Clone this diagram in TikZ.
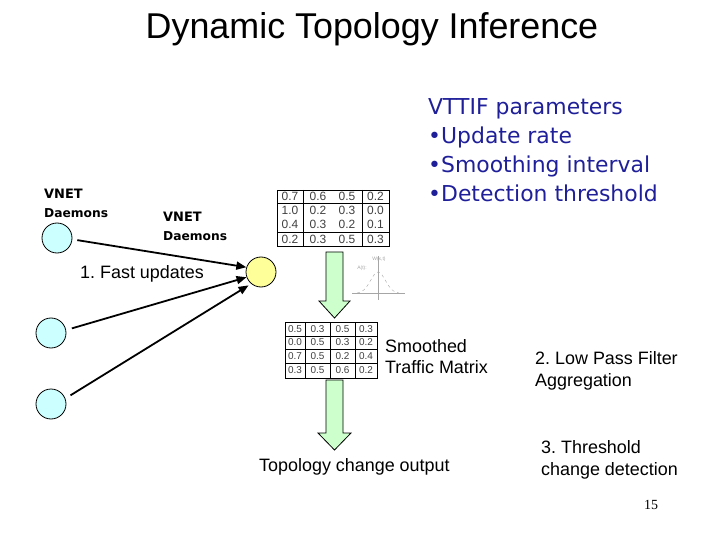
\documentclass[tikz,border=0pt]{standalone}
\usepackage{fontspec}
\setmainfont{Liberation Sans}
\newfontfamily\daemonfont{DejaVu Sans}
\newfontfamily\handfont{DejaVu Sans}
\newfontfamily\pagefont{Liberation Serif}
\usetikzlibrary{arrows.meta}
\definecolor{daemonfill}{HTML}{CCFFFF}
\definecolor{hubfill}{HTML}{FFFF99}
\definecolor{arrowfill}{HTML}{CCFFCC}
\definecolor{parablue}{HTML}{1F1F99}
\frenchspacing

\begin{document}
\begin{tikzpicture}[x=1bp, y=-1bp]
    % Define styles
    \tikzstyle{daemon} = [draw, circle, fill=daemonfill, minimum size=30bp, inner sep=0pt, line width=0.8bp]
    \tikzstyle{hub} = [draw, circle, fill=hubfill, minimum size=30bp, inner sep=0pt, line width=0.8bp]
    \tikzstyle{flow} = [line width=1.8bp, -{Triangle[length=10bp, width=8bp]}]
    \tikzstyle{label} = [anchor=base west, inner sep=0pt, font=\fontsize{18}{21}\selectfont]
    \tikzstyle{vnet} = [anchor=base west, inner sep=0pt, font=\daemonfont\bfseries\fontsize{13}{16}\selectfont]
    \tikzstyle{daem} = [anchor=base west, inner sep=0pt, font=\daemonfont\bfseries\fontsize{12.3}{16}\selectfont]
    \tikzstyle{param} = [anchor=base west, inner sep=0pt, text=parablue, font=\handfont\fontsize{22}{29}\selectfont]
    \tikzstyle{cell} = [inner sep=0pt, text=black!75]
    \tikzstyle{bigarrow} = [draw, fill=arrowfill, line width=0.8bp, line join=miter]

    \useasboundingbox (0,0) rectangle (720,540);

    % Title
    \node[anchor=base, inner sep=0pt, font=\fontsize{36}{40}\selectfont] (title) at (372,39) {Dynamic Topology Inference};

    % Daemons
    \node[vnet] (vnetA) at (44,199) {VNET};
    \node[daem] (daemA) at (44,218) {Daemons};
    \node[vnet] (vnetB) at (163,222) {VNET};
    \node[daem] (daemB) at (163,241) {Daemons};
    \node[daemon] (d1) at (57,238) {};
    \node[daemon] (d2) at (51,333) {};
    \node[daemon] (d3) at (51,404) {};
    \node[hub] (hub) at (261,272) {};
    \node[label] (fast) at (80,278.5) {1. Fast updates};

    % Flow arrows
    \draw[flow, shorten <=5bp] (d1.-5) -- (hub.162);
    \draw[flow, shorten <=6bp] (d2.11) -- (hub.200);
    \draw[flow, shorten <=6bp, shorten >=3bp] (d3.21) -- (hub.230);

    % Raw traffic matrix
    \node[draw, line width=0.8bp, minimum width=112bp, minimum height=56bp, inner sep=0pt] (rawmat) at (333,218) {};
    \draw[line width=0.8bp] (303,190) -- (303,246) (362,190) -- (362,246)
        (277,203) -- (389,203) (277,232) -- (389,232);
    \begin{scope}[font=\fontsize{12}{12}\selectfont]
    \foreach \y/\a/\b/\c/\d [count=\r] in {196.5/0.7/0.6/0.5/0.2, 210/1.0/0.2/0.3/0.0,
        224.5/0.4/0.3/0.2/0.1, 239/0.2/0.3/0.5/0.3} {
        \node[cell] (raw-\r-1) at (290,\y) {\a};
        \node[cell] (raw-\r-2) at (318,\y) {\b};
        \node[cell] (raw-\r-3) at (347,\y) {\c};
        \node[cell] (raw-\r-4) at (375.5,\y) {\d};
    }
    \end{scope}

    % VTTIF parameters
    \node[param] (ptitle) at (428,115) {VTTIF parameters};
    \node[param] (prate) at (428,144) {\textbullet Update rate};
    \node[param] (psmooth) at (428,173) {\textbullet Smoothing interval};
    \node[param] (pdetect) at (428,202) {\textbullet Detection threshold};

    % Low pass filter sketch
    \begin{scope}[draw=black!35, line width=0.4bp]
        \draw (378,256) -- (378,300);
        \draw (352,293) -- (405,293);
        \draw[dashed] (357,293) .. controls (368,293) and (372,272) .. (378,272)
            .. controls (384,272) and (388,293) .. (399,293);
    \end{scope}
    \node[text=black!35, font=\fontsize{5}{6}\selectfont, inner sep=0pt] (wlab) at (379,259) {W(x,t)};
    \node[text=black!35, font=\fontsize{5}{6}\selectfont, inner sep=0pt] (alab) at (362,268) {A(t):};

    % Big arrows
    \draw[bigarrow] (326,252) -- (343,252) -- (343,301) -- (350,301) -- (334.5,318)
        -- (319,301) -- (326,301) -- cycle;
    \draw[bigarrow] (326,380) -- (343,380) -- (343,433) -- (351,433) -- (334.5,450)
        -- (318,433) -- (326,433) -- cycle;

    % Smoothed traffic matrix
    \node[draw, line width=0.8bp, minimum width=92bp, minimum height=56bp, inner sep=0pt] (smoothmat) at (331,350) {};
    \draw[line width=0.8bp] (305,322) -- (305,378) (330,322) -- (330,378) (355,322) -- (355,378)
        (285,336) -- (377,336) (285,349) -- (377,349) (285,363) -- (377,363);
    \begin{scope}[font=\fontsize{10}{10}\selectfont]
    \foreach \y/\a/\b/\c/\d [count=\r] in {329/0.5/0.3/0.5/0.3, 342.5/0.0/0.5/0.3/0.2,
        356/0.7/0.5/0.2/0.4, 370.5/0.3/0.5/0.6/0.2} {
        \node[cell] (sm-\r-1) at (295,\y) {\a};
        \node[cell] (sm-\r-2) at (317.5,\y) {\b};
        \node[cell] (sm-\r-3) at (342.5,\y) {\c};
        \node[cell] (sm-\r-4) at (366,\y) {\d};
    }
    \end{scope}
    \node[label] (smooth1) at (385,352.5) {Smoothed};
    \node[label] (smooth2) at (385,373.5) {Traffic Matrix};
    \node[label] (output) at (259,471) {Topology change output};

    % Steps
    \node[label] (lowpass1) at (535,364.5) {2. Low Pass Filter};
    \node[label] (lowpass2) at (535,386.5) {Aggregation};
    \node[label] (thresh1) at (541,453.5) {3. Threshold};
    \node[label] (thresh2) at (541,475.5) {change detection};

    % Page number
    \node[anchor=base, inner sep=0pt, font=\pagefont\fontsize{14}{16}\selectfont] (pagenum) at (651,509) {15};
\end{tikzpicture}
\end{document}
